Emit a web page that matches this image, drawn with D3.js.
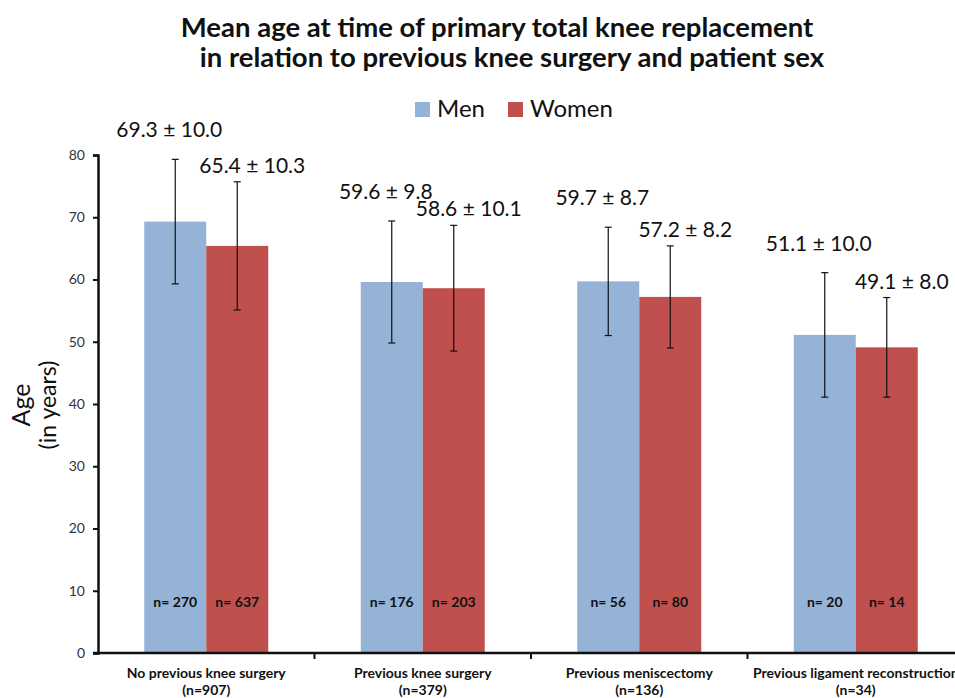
<!DOCTYPE html>
<html>
<head>
<meta charset="utf-8">
<script src="https://cdn.jsdelivr.net/npm/d3@7"></script>
<style>
	body { margin: 0; background: #fff; }
	svg text { font-family: Lato, 'Open Sans', sans-serif; }
</style>
</head>
<body>
<div id="chart"></div>
<script>
// data
const categories = [
	'No previous knee surgery',
	'Previous knee surgery',
	'Previous meniscectomy',
	'Previous ligament reconstruction',
];
const categoryN = [907, 379, 136, 34];
const series = ['Men', 'Women'];
const menMean = [69.3, 59.6, 59.7, 51.1];
const menSd = [10.0, 9.8, 8.7, 10.0];
const menN = [270, 176, 56, 20];
const womenMean = [65.4, 58.6, 57.2, 49.1];
const womenSd = [10.3, 10.1, 8.2, 8.0];
const womenN = [637, 203, 80, 14];
const yTicks = [0, 10, 20, 30, 40, 50, 60, 70, 80];

const colors = { Men: '#95b3d7', Women: '#c0504d' };

const width = 955;
const height = 698;
const margin = { top: 155, right: 0, bottom: 45, left: 98 };

const svg = d3
	.select('#chart')
	.append('svg')
	.attr('width', width)
	.attr('height', height);

// build rows for bars
const rows = [];
categories.forEach((c, i) => {
	rows.push({ cat: c, sex: 'Men', mean: menMean[i], sd: menSd[i], n: menN[i] });
	rows.push({ cat: c, sex: 'Women', mean: womenMean[i], sd: womenSd[i], n: womenN[i] });
});

const x0 = d3
	.scaleBand()
	.domain(categories)
	.range([margin.left, 964])
	.paddingInner(0)
	.paddingOuter(0);

const x1 = d3
	.scaleBand()
	.domain(series)
	.range([0, 124])
	.padding(0);

const groupOffset = (x0.bandwidth() - 124) / 2;
const barX = (d) => x0(d.cat) + groupOffset + x1(d.sex);
const barMid = (d) => barX(d) + x1.bandwidth() / 2;

const y = d3
	.scaleLinear()
	.domain([0, 80])
	.range([height - margin.bottom, margin.top]);

// title
const title = svg
	.append('text')
	.attr('text-anchor', 'middle')
	.style('font-size', '27.5px')
	.style('font-weight', 'bold')
	.attr('fill', '#111');
title.append('tspan').attr('x', 497).attr('y', 37).text('Mean age at time of primary total knee replacement');
title.append('tspan').attr('x', 512).attr('y', 67).text('in relation to previous knee surgery and patient sex');

// legend
const legend = svg.append('g').attr('transform', 'translate(415,102)');
const legendX = { Men: 0, Women: 93 };
series.forEach((s) => {
	legend
		.append('rect')
		.attr('x', legendX[s])
		.attr('y', 0)
		.attr('width', 15)
		.attr('height', 15)
		.attr('fill', colors[s]);
	legend
		.append('text')
		.attr('x', legendX[s] + 22)
		.attr('y', 15)
		.style('font-size', '24px')
		.attr('fill', '#111')
		.text(s);
});

// bars
svg
	.append('g')
	.selectAll('rect')
	.data(rows)
	.join('rect')
	.attr('x', barX)
	.attr('y', (d) => y(d.mean))
	.attr('width', x1.bandwidth())
	.attr('height', (d) => y(0) - y(d.mean))
	.attr('fill', (d) => colors[d.sex]);

// error bars
const err = svg.append('g').attr('stroke', '#111').attr('stroke-width', 1.2);
err
	.selectAll('.stem')
	.data(rows)
	.join('line')
	.attr('class', 'stem')
	.attr('x1', barMid)
	.attr('x2', barMid)
	.attr('y1', (d) => y(d.mean - d.sd))
	.attr('y2', (d) => y(d.mean + d.sd));
['lo', 'hi'].forEach((k) => {
	err
		.selectAll('.cap-' + k)
		.data(rows)
		.join('line')
		.attr('class', 'cap-' + k)
		.attr('x1', (d) => barMid(d) - 3.5)
		.attr('x2', (d) => barMid(d) + 3.5)
		.attr('y1', (d) => y(k === 'lo' ? d.mean - d.sd : d.mean + d.sd))
		.attr('y2', (d) => y(k === 'lo' ? d.mean - d.sd : d.mean + d.sd));
});

// mean ± sd labels
svg
	.append('g')
	.selectAll('text')
	.data(rows)
	.join('text')
	.attr('x', (d) => barMid(d) + (d.sex === 'Men' ? -6 : 15))
	.attr('y', (d) => y(d.mean + d.sd) - (d.sex === 'Men' ? 22 : 9))
	.attr('text-anchor', 'middle')
	.style('font-size', '21px')
	.attr('fill', '#111')
	.text((d) => d.mean.toFixed(1) + ' \u00b1 ' + d.sd.toFixed(1));

// n labels in bars
svg
	.append('g')
	.selectAll('text')
	.data(rows)
	.join('text')
	.attr('x', barMid)
	.attr('y', y(0) - 46)
	.attr('text-anchor', 'middle')
	.style('font-size', '14px')
	.style('font-weight', 'bold')
	.attr('fill', '#111')
	.text((d) => 'n= ' + d.n);

// y axis
const yAxisG = svg
	.append('g')
	.attr('transform', `translate(${margin.left},0)`)
	.call(d3.axisLeft(y).tickValues(yTicks).tickSize(5).tickPadding(8));
yAxisG.select('.domain').attr('stroke', '#111').attr('stroke-width', 2.5);
yAxisG.selectAll('.tick line').attr('stroke', '#111').attr('stroke-width', 2);
yAxisG.selectAll('.tick text').style('font-size', '14px').attr('fill', '#333');
yAxisG.selectAll('.tick text').style('font-family', 'Lato, sans-serif');

// x axis: baseline with ticks at category boundaries
const xAxisG = svg.append('g').attr('transform', `translate(0,${y(0)})`);
xAxisG
	.append('line')
	.attr('x1', margin.left - 5)
	.attr('x2', width)
	.attr('stroke', '#111')
	.attr('stroke-width', 2.5);
xAxisG
	.selectAll('.xtick')
	.data(categories.slice(1))
	.join('line')
	.attr('class', 'xtick')
	.attr('x1', (d) => x0(d))
	.attr('x2', (d) => x0(d))
	.attr('y1', 0)
	.attr('y2', 6)
	.attr('stroke', '#111')
	.attr('stroke-width', 2);

const xLabels = xAxisG
	.selectAll('.xlabel')
	.data(categories)
	.join('text')
	.attr('class', 'xlabel')
	.attr('text-anchor', 'middle')
	.style('font-size', '14px')
	.style('font-weight', 'bold')
	.attr('fill', '#111');
xLabels
	.append('tspan')
	.attr('x', (d) => x0(d) + x0.bandwidth() / 2)
	.attr('y', 25)
	.text((d) => d);
xLabels
	.append('tspan')
	.attr('x', (d) => x0(d) + x0.bandwidth() / 2)
	.attr('y', 42)
	.text((d, i) => '(n=' + categoryN[i] + ')');

// y title
const yTitle = svg
	.append('text')
	.attr('transform', 'translate(0,405) rotate(-90)')
	.attr('text-anchor', 'middle')
	.attr('fill', '#111');
yTitle.append('tspan').attr('x', 0).attr('y', 30).style('font-size', '25px').text('Age');
yTitle.append('tspan').attr('x', 0).attr('y', 56).style('font-size', '23px').text('(in years)');
</script>
</body>
</html>
